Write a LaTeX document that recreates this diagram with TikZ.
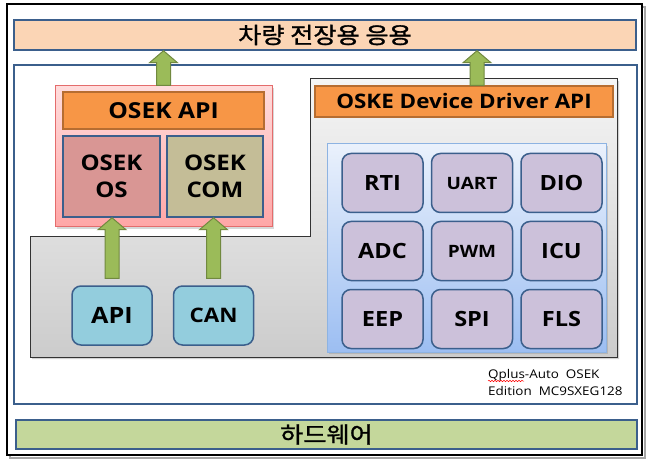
\documentclass[tikz,border=0pt]{standalone}
\usepackage{fontspec}
\setmainfont[FakeStretch=1.12]{Open Sans}
\newfontfamily\krfont[FakeStretch=1.12, FakeBold=1.2]{Noto Sans CJK KR}
\usepackage{tikz}
\usetikzlibrary{positioning,calc,shadows,decorations.pathmorphing}
\definecolor{frameblue}{HTML}{3B5F8C}
\definecolor{peach}{HTML}{FBD5B5}
\definecolor{hwgreen}{HTML}{C4D79B}
\definecolor{orangefill}{HTML}{F79646}
\definecolor{orangeline}{HTML}{B66D31}
\definecolor{osrose}{HTML}{D99694}
\definecolor{comtan}{HTML}{C4BD97}
\definecolor{apicyan}{HTML}{93CDDD}
\definecolor{lilac}{HTML}{CCC1DA}
\definecolor{arrowgreen}{HTML}{9BBB59}
\definecolor{arrowline}{HTML}{71893F}
\definecolor{pinktop}{HTML}{FFDCDC}
\definecolor{pinkbot}{HTML}{FFA6A6}
\definecolor{pinkline}{HTML}{E46C6C}
\definecolor{paneltop}{HTML}{EAF1FC}
\definecolor{panelbot}{HTML}{9CBEF2}
\definecolor{panelline}{HTML}{8DB3E2}
\tikzstyle{bar}=[draw=frameblue, line width=1.5pt, inner sep=0pt, font=\krfont\fontsize{22.5}{24}\selectfont]
\tikzstyle{apibar}=[draw=orangeline, fill=orangefill, line width=1.2pt, inner sep=0pt, font=\bfseries\fontsize{22}{24}\selectfont]
\tikzstyle{module}=[draw=frameblue, line width=1.5pt, inner sep=0pt, align=center, font=\bfseries\fontsize{21.5}{27}\selectfont]
\tikzstyle{inbox}=[module, rounded corners=9pt, fill=apicyan, minimum width=80pt, minimum height=59pt]
\tikzstyle{drvbox}=[module, rounded corners=9pt, fill=lilac, minimum width=81pt, minimum height=59pt, font=\bfseries\fontsize{21}{24}\selectfont]
\tikzstyle{smalltxt}=[font=\bfseries\fontsize{17}{20}\selectfont]
\tikzstyle{uparrow}=[fill=arrowgreen, draw=arrowline, line width=1pt]
\newcommand{\greenup}[3]{%
  \coordinate (gs) at (#1);
  \coordinate (gt) at (gs |- #2);
  \draw[uparrow] ($(gs)+(-7,-#3)$) -- ($(gt)+(-7,12)$) -- ($(gt)+(-14,12)$) -- (gt)
    -- ($(gt)+(14,12)$) -- ($(gt)+(7,12)$) -- ($(gs)+(7,-#3)$) -- cycle;}
\begin{document}
\begin{tikzpicture}[x=1pt, y=-1pt]
	\useasboundingbox (0,0) rectangle (650,462);
	\draw[gray!70, line width=2pt] (10,7) rectangle (645,458);
	\draw[black, line width=2pt, fill=white] (7,4) rectangle (642,455);
	\node[bar, fill=peach, minimum width=622pt, minimum height=30pt] (app) at (325,35) {차량 전장용 응용};
	\node[bar, fill=hwgreen, minimum width=621pt, minimum height=29pt] (hw) at (326.5,434.5) {하드웨어};
	\draw[frameblue, line width=1.5pt] (14,65) rectangle (637,404);
	\draw[black!80, line width=1pt, top color=gray!8, bottom color=gray!40, drop shadow={opacity=0.35, shadow xshift=2pt, shadow yshift=-2pt}]
	(30,237) -- (310,237) -- (310,79) -- (617,79) -- (617,357) -- (30,357) -- cycle;
	\node[draw=pinkline, line width=1pt, top color=pinktop, bottom color=pinkbot, minimum width=217pt, minimum height=141pt, drop shadow={opacity=0.3, shadow xshift=2pt, shadow yshift=-2pt}] (osek) at (163.5,156.5) {};
	\node[apibar, minimum width=201pt, minimum height=37pt] (osekapi) at (163.5,110.5) {OSEK API};
	\node[module, fill=osrose, minimum width=97pt, minimum height=81pt] (osekos) at (111.5,176.5) {OSEK\\OS};
	\node[module, fill=comtan, minimum width=96pt, minimum height=81pt] (osekcom) at (215,176.5) {OSEK\\COM};
	\node[inbox, font=\bfseries\fontsize{22.5}{26}\selectfont] (api) at (112,315.5) {API};
	\node[inbox, font=\bfseries\fontsize{20}{22}\selectfont, right=20pt of api] (can) {CAN};
	\node[apibar, minimum width=298pt, minimum height=31pt, font=\bfseries\fontsize{20}{22}\selectfont] (oskeapi) at (464,101.5) {OSKE Device Driver API};
	\node[draw=panelline, line width=1pt, top color=paneltop, bottom color=panelbot, minimum width=279pt, minimum height=208pt, drop shadow={opacity=0.3, shadow xshift=2pt, shadow yshift=-2pt}] (panel) at (466.5,248) {};
	\node[drvbox] (rti) at (382.5,183) {RTI};
	\node[drvbox, smalltxt, right=7pt of rti] (uart) {UART};
	\node[drvbox, right=7pt of uart] (dio) {DIO};
	\node[drvbox, below=7.5pt of rti] (adc) {ADC};
	\node[drvbox, smalltxt, right=7pt of adc] (pwm) {PWM};
	\node[drvbox, right=7pt of pwm] (icu) {ICU};
	\node[drvbox, below=7.5pt of adc] (eep) {EEP};
	\node[drvbox, right=7pt of eep] (spi) {SPI};
	\node[drvbox, right=7pt of spi] (fls) {FLS};
	\greenup{api.north}{osekos.south}{7}
	\greenup{can.north}{osekcom.south}{7}
	\greenup{osek.north}{app.south}{0}
	\greenup{$(oskeapi.north)+(13,0)$}{app.south}{0}
	\node[anchor=base west, inner sep=0pt, font=\fontsize{12}{14}\selectfont] (qline) at (488,378) {Qplus-Auto\ \ OSEK};
	\node[anchor=base west, inner sep=0pt, font=\fontsize{12}{14}\selectfont] (edline) at (488,395) {Edition\ \ MC9SXEG128};
	\draw[red, line width=0.5pt, decorate, decoration={snake, amplitude=0.7pt, segment length=3pt}] ($(qline.base west)+(0,3)$) -- +(36,0);
\end{tikzpicture}
\end{document}
